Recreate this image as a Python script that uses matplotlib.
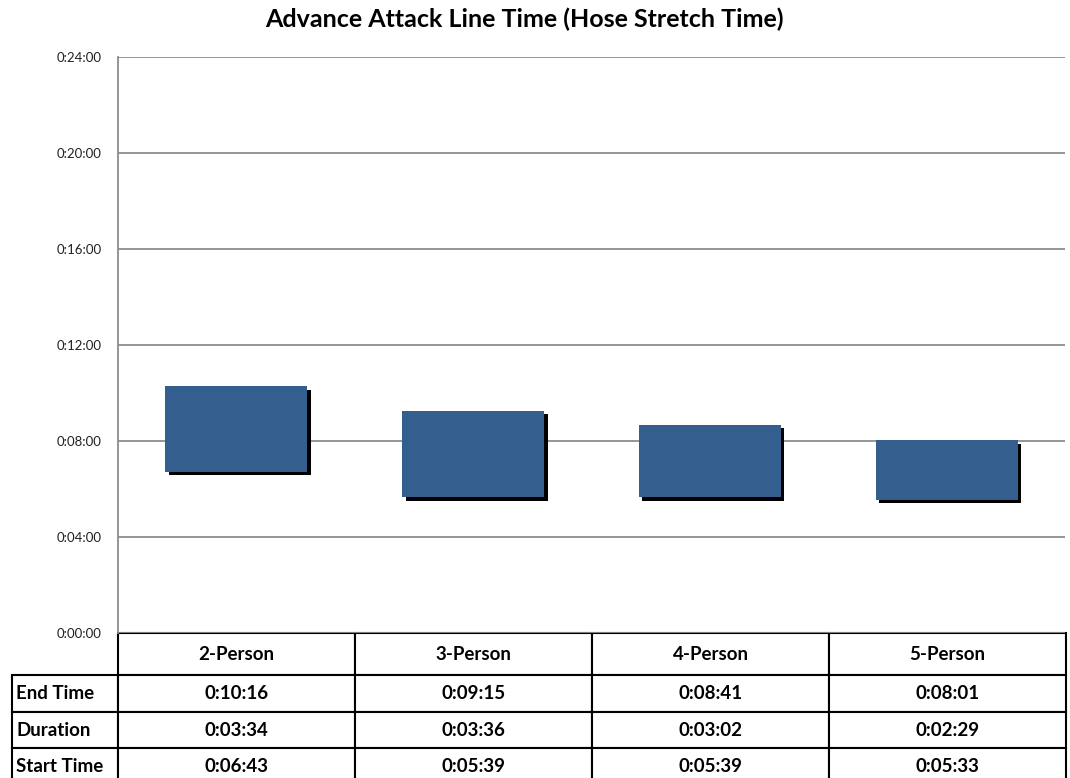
import numpy as np
import matplotlib.pyplot as plt
import matplotlib.patheffects as pe

crews = ["2-Person", "3-Person", "4-Person", "5-Person"]
end_time = ["0:10:16", "0:09:15", "0:08:41", "0:08:01"]
duration = ["0:03:34", "0:03:36", "0:03:02", "0:02:29"]
start_time = ["0:06:43", "0:05:39", "0:05:39", "0:05:33"]
row_names = ["End Time", "Duration", "Start Time"]

def minutes(s):
    h, m, sec = [int(v) for v in s.split(":")]
    return h * 60 + m + sec / 60.0

starts = np.array([minutes(s) for s in start_time])
lengths = np.array([minutes(s) for s in duration])

plt.rcParams['font.family'] = ['Lato', 'DejaVu Sans']

fig = plt.figure(figsize=(10.7, 7.78), dpi=100)
ax = fig.add_axes([118 / 1070, 1 - 633 / 778, 947 / 1070, 576 / 778])

x = np.arange(len(crews))
shadow = [pe.SimplePatchShadow(offset=(2.5, -2.5), shadow_rgbFace="black", alpha=1), pe.Normal()]
bars = ax.bar(x, lengths, bottom=starts, width=0.6, color="#345e8e", zorder=3)
for b in bars:
    b.set_path_effects(shadow)

ax.set_xlim(-0.5, 3.5)
ax.set_ylim(0, 24)
ticks = np.arange(0, 25, 4)
ax.set_yticks(ticks)
ax.set_yticklabels(["0:%02d:00" % t for t in ticks], fontsize=9.5, color="#222222")
ax.set_xticks([])
ax.tick_params(axis="y", length=0, pad=12)
ax.yaxis.grid(True, color="#8c8c8c", linewidth=1.3, zorder=0)
for side in ["top", "right", "bottom"]:
    ax.spines[side].set_visible(False)
ax.spines["left"].set_color("#8c8c8c")
ax.spines["left"].set_linewidth(1.3)

fig.text(524 / 1070, 1 - 19 / 778, "Advance Attack Line Time (Hose Stretch Time)",
         fontsize=18, fontweight="bold", ha="center", va="center")

cells = [[""] + crews]
for name, vals in zip(row_names, [end_time, duration, start_time]):
    cells.append([name] + vals)

w_lab = 106 / 947
w_col = 237 / 947
tab = ax.table(cellText=cells, colWidths=[w_lab] + [w_col] * 4,
               bbox=[-w_lab, -152 / 576, w_lab + 4 * w_col, 152 / 576],
               cellLoc="center")
tab.auto_set_font_size(False)
row_h = [42, 37, 36, 37]
for (r, c), cell in tab.get_celld().items():
    cell.set_height(row_h[r])
    cell.set_edgecolor("black")
    cell.set_linewidth(1.5)
    cell.get_text().set_fontweight("bold")
    cell.get_text().set_fontsize(13.5)
    if c == 0:
        cell._loc = "left"
        cell.get_text().set_ha("left")
        cell.PAD = 0.04
    if r == 0 and c == 0:
        cell.visible_edges = ""

fig.savefig("out.png", dpi=100)
